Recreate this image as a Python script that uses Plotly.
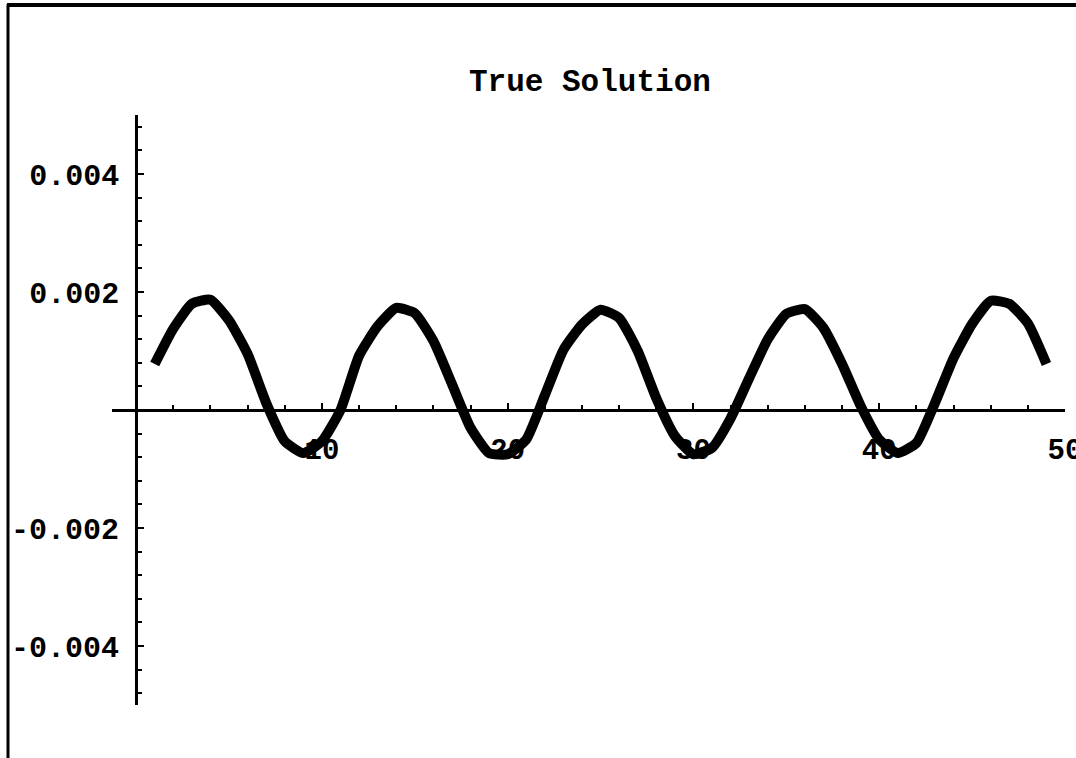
import plotly.graph_objects as go

# Sampled solution values at integer grid points
x_vals = list(range(1, 50))
y_vals = [
    0.00078, 0.00138, 0.00180, 0.00187, 0.00152, 0.00095, 0.00012, -0.00053, -0.00073, -0.00053,
    0.00000, 0.00092, 0.00142, 0.00173, 0.00164, 0.00117, 0.00044, -0.00030, -0.00073, -0.00075,
    -0.00050, 0.00025, 0.00102, 0.00145, 0.00170, 0.00156, 0.00100, 0.00020, -0.00044, -0.00075,
    -0.00064, -0.00014, 0.00054, 0.00120, 0.00163, 0.00171, 0.00139, 0.00078, 0.00007, -0.00050,
    -0.00073, -0.00056, 0.00012, 0.00088, 0.00146, 0.00185, 0.00180, 0.00147, 0.00078,
]

x_ticks = [10, 20, 30, 40, 50]
x_tick_text = ["10", "20", "30", "40", "50"]
y_ticks = [-0.004, -0.002, 0.002, 0.004]
y_tick_text = ["-0.004", "-0.002", "0.002", "0.004"]
title_text = "True Solution"

W, H = 1076, 758
ML, MR, MT, MB = 112, 11, 115, 53
PW, PH = W - ML - MR, H - MT - MB
X_RANGE = [-1.3, 50.0]
Y_RANGE = [-0.005, 0.005]

FONT = "Liberation Mono, Courier New, monospace"


def px_x(p):
    return (p - ML) / PW


def px_y(p):
    return 1 - (p - MT) / PH


fig = go.Figure()
fig.add_trace(go.Scatter(
    x=x_vals, y=y_vals, mode="lines",
    line=dict(color="black", width=10, shape="spline", smoothing=0.5),
    hoverinfo="skip", showlegend=False,
))

yaxis_pos = (0 - X_RANGE[0]) / (X_RANGE[1] - X_RANGE[0])
xaxis_pos = (0 - Y_RANGE[0]) / (Y_RANGE[1] - Y_RANGE[0])

fig.update_layout(
    width=W, height=H,
    margin=dict(l=ML, r=MR, t=MT, b=MB, pad=0, autoexpand=False),
    paper_bgcolor="white", plot_bgcolor="white",
    font=dict(family=FONT, color="black", size=28, weight="bold"),
    xaxis=dict(
        range=X_RANGE, anchor="free", position=xaxis_pos, side="bottom",
        automargin=False,
        showgrid=False, zeroline=False,
        showline=True, linecolor="black", linewidth=3,
        tickmode="array", tickvals=x_ticks, ticktext=x_tick_text,
        ticks="inside", ticklen=6, tickwidth=2, tickcolor="black",
        ticklabelstandoff=12, ticklabeloverflow="allow",
        minor=dict(tickmode="linear", tick0=0, dtick=2, ticks="inside",
                   ticklen=4, tickwidth=2, tickcolor="black", showgrid=False),
        tickfont=dict(family=FONT, size=29, color="black", weight="bold"),
        layer="below traces",
    ),
    yaxis=dict(
        range=Y_RANGE, anchor="free", position=yaxis_pos, side="left",
        automargin=False,
        showgrid=False, zeroline=False,
        showline=True, linecolor="black", linewidth=3,
        tickmode="array", tickvals=y_ticks, ticktext=y_tick_text,
        ticks="inside", ticklen=6, tickwidth=2, tickcolor="black",
        ticklabelstandoff=10, ticklabeloverflow="allow",
        minor=dict(tickmode="linear", tick0=0, dtick=0.0004, ticks="inside",
                   ticklen=4, tickwidth=2, tickcolor="black", showgrid=False),
        tickfont=dict(family=FONT, size=30, color="black", weight="bold"),
        layer="below traces",
    ),
    annotations=[dict(
        text=title_text, xref="paper", yref="paper",
        x=px_x(590), y=px_y(83), xanchor="center", yanchor="middle",
        showarrow=False,
        font=dict(family=FONT, size=31, color="black", weight="bold"),
    )],
    shapes=[
        # frame: left and top edges
        dict(type="line", xref="paper", yref="paper",
             x0=px_x(8), x1=px_x(8), y0=px_y(4), y1=px_y(H + 5),
             line=dict(color="black", width=3)),
        dict(type="line", xref="paper", yref="paper",
             x0=px_x(7), x1=px_x(W + 5), y0=px_y(5), y1=px_y(5),
             line=dict(color="black", width=4)),
    ],
)

fig.write_html("out.html")
